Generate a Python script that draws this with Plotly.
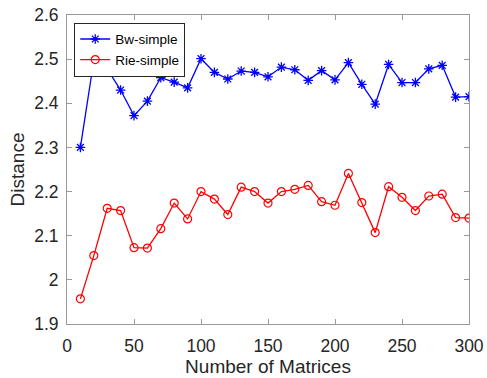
import plotly.graph_objects as go

x_vals = [10, 20, 30, 40, 50, 60, 70, 80, 90, 100, 110, 120, 130, 140, 150,
          160, 170, 180, 190, 200, 210, 220, 230, 240, 250, 260, 270, 280, 290, 300]
bw_simple = [2.300, 2.497, 2.478, 2.430, 2.372, 2.405, 2.458, 2.448, 2.435, 2.501,
             2.470, 2.455, 2.473, 2.470, 2.460, 2.482, 2.476, 2.452, 2.474, 2.453,
             2.492, 2.443, 2.398, 2.488, 2.447, 2.447, 2.478, 2.486, 2.414, 2.415]
rie_simple = [1.957, 2.055, 2.162, 2.157, 2.073, 2.072, 2.116, 2.174, 2.138, 2.200,
              2.183, 2.148, 2.210, 2.200, 2.174, 2.200, 2.205, 2.214, 2.177, 2.169,
              2.241, 2.175, 2.107, 2.211, 2.187, 2.157, 2.190, 2.194, 2.141, 2.140]
x_ticks = [0, 50, 100, 150, 200, 250, 300]
y_ticks = [1.9, 2.0, 2.1, 2.2, 2.3, 2.4, 2.5, 2.6]
y_tick_text = ["1.9", "2", "2.1", "2.2", "2.3", "2.4", "2.5", "2.6"]

FONT = "Liberation Sans, Arial, sans-serif"

fig = go.Figure()
fig.add_trace(go.Scatter(
    x=x_vals, y=bw_simple, name="Bw-simple", mode="lines+markers",
    line=dict(color="#0000ff", width=1.3),
    marker=dict(symbol="asterisk-open", size=8, color="#0000ff",
                line=dict(color="#0000ff", width=1.3))))
fig.add_trace(go.Scatter(
    x=x_vals, y=rie_simple, name="Rie-simple", mode="lines+markers",
    line=dict(color="#ff0000", width=1.3),
    marker=dict(symbol="circle-open", size=8, color="#ff0000",
                line=dict(color="#ff0000", width=1.2))))

axis_common = dict(
    showgrid=False, zeroline=False, showline=True, linecolor="#9a9a9a",
    linewidth=1, mirror="ticks", ticks="inside", ticklen=5, tickcolor="#9a9a9a",
    automargin=False,
    tickfont=dict(family=FONT, size=17.5, color="#262626"),
)

fig.update_layout(
    width=487, height=378,
    margin=dict(l=67, r=18, t=15, b=54),
    paper_bgcolor="white", plot_bgcolor="white",
    font=dict(family=FONT, color="#262626"),
    xaxis=dict(range=[0, 300], tickvals=x_ticks, ticklabelstandoff=6,
               title=dict(text="Number of Matrices", font=dict(size=19), standoff=4),
               **axis_common),
    yaxis=dict(range=[1.9, 2.6], tickvals=y_ticks, ticktext=y_tick_text,
               ticklabelstandoff=4,
               title=dict(text="Distance", font=dict(size=19), standoff=4),
               **axis_common),
    legend=dict(x=0.018, y=0.975, xanchor="left", yanchor="top",
                bgcolor="white", bordercolor="#262626", borderwidth=1,
                font=dict(size=13.5, color="#000000"),
                tracegroupgap=0, itemwidth=30),
    showlegend=True,
)

# remove the default 8px page margin so the figure fills the window exactly
fig.write_html("out.html", config={"displayModeBar": False},
               post_script="document.body.style.margin='0';")
